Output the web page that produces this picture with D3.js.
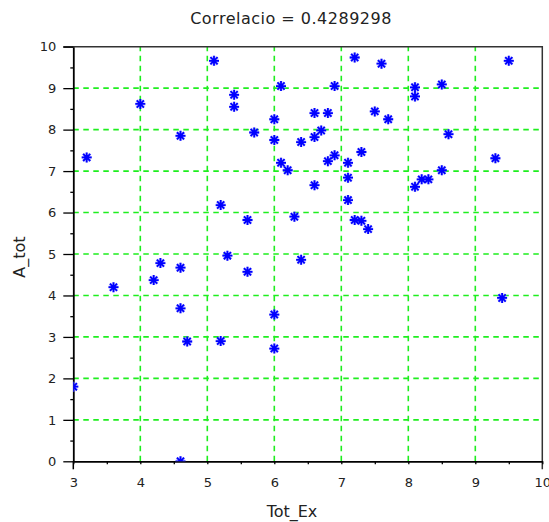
<!DOCTYPE html>
<html>
<head>
<meta charset="utf-8">
<script src="https://cdn.jsdelivr.net/npm/d3@7"></script>
<style>
  html, body { margin: 0; padding: 0; background: #fff; }
  svg { display: block; }
  .axis text { font-family: "DejaVu Sans", sans-serif; font-size: 13px; fill: #222; }
  .axis path, .axis line { stroke: #000; }
</style>
</head>
<body>
<script>
// Scatter of Tot_Ex against A_tot
const totEx = [3.2, 4.0, 4.6, 5.1, 5.4, 5.4, 5.7, 6.0, 6.0, 6.1, 6.1, 6.2, 6.4, 5.2, 5.6, 6.3,
               7.2, 7.6, 6.9, 8.1, 8.1, 8.5, 9.5, 6.6, 6.8, 7.5, 7.7, 6.7, 6.6, 8.6, 6.9, 6.8,
               7.3, 7.1, 7.1, 7.1, 9.3, 8.5, 8.2, 8.3, 8.1, 6.6, 7.2, 7.3, 7.4,
               3.6, 4.2, 4.3, 4.6, 4.6, 4.7, 5.2, 5.3, 5.6, 6.0, 6.0, 6.4, 3.0, 4.6, 9.4];
const aTot  = [7.33, 8.62, 7.85, 9.66, 8.84, 8.55, 7.93, 8.25, 7.75, 9.05, 7.20, 7.02, 7.70, 6.18, 5.82, 5.90,
               9.74, 9.59, 9.05, 9.02, 8.80, 9.09, 9.66, 8.40, 8.40, 8.44, 8.25, 7.98, 7.82, 7.89, 7.38, 7.24,
               7.46, 7.20, 6.84, 6.30, 7.31, 7.02, 6.80, 6.80, 6.62, 6.66, 5.82, 5.80, 5.60,
               4.20, 4.37, 4.78, 4.67, 3.69, 2.89, 2.90, 4.96, 4.57, 3.54, 2.72, 4.86, 1.80, 0.0, 3.94];

const xMajor = [3, 4, 5, 6, 7, 8, 9, 10];
const xMinor = [3.5, 4.5, 5.5, 6.5, 7.5, 8.5, 9.5];
const yMajor = [0, 1, 2, 3, 4, 5, 6, 7, 8, 9, 10];
const yMinor = [0.5, 1.5, 2.5, 3.5, 4.5, 5.5, 6.5, 7.5, 8.5, 9.5];
const xGrid = [4, 5, 6, 7, 8, 9];
const yGrid = [1, 2, 3, 4, 5, 6, 7, 8, 9];

const titleText = "Correlacio = 0.4289298";
const xTitle = "Tot_Ex";
const yTitle = "A_tot";

const W = 549, H = 522;
const pL = 73.3, pR = 542.3, pT = 46.7, pB = 461.3;

const x = d3.scaleLinear().domain([3, 10]).range([pL, pR]);
const y = d3.scaleLinear().domain([0, 10]).range([pB, pT]);

const svg = d3.select("body").append("svg").attr("width", W).attr("height", H);

svg.append("defs").append("clipPath").attr("id", "plotClip")
  .append("rect").attr("x", pL).attr("y", pT)
  .attr("width", pR - pL).attr("height", pB - pT);

// dashed green grid
const grid = svg.append("g").attr("stroke", "#1eee1e").attr("stroke-width", 1.6)
  .attr("stroke-dasharray", "5.5,4.5");
grid.selectAll("line.gx").data(xGrid).join("line").attr("class", "gx")
  .attr("x1", d => x(d)).attr("x2", d => x(d)).attr("y1", pB).attr("y2", pT);
grid.selectAll("line.gy").data(yGrid).join("line").attr("class", "gy")
  .attr("y1", d => y(d)).attr("y2", d => y(d)).attr("x1", pL).attr("x2", pR);

// frame: top and right edges
svg.append("path")
  .attr("d", `M${pL - 10},${pT}H${pR}V${pB + 8}`)
  .attr("fill", "none").attr("stroke", "#333").attr("stroke-width", 1.5);

// axes
const xAxis = svg.append("g").attr("class", "axis").attr("transform", `translate(0,${pB})`);
xAxis.call(d3.axisBottom(x).tickValues(xMinor).tickSize(3).tickFormat(""))
  .call(g => g.select(".domain").remove());
xAxis.append("g").call(d3.axisBottom(x).tickValues(xMajor).tickSize(3).tickSizeOuter(0).tickPadding(13)
  .tickFormat(d3.format("d")))
  .call(g => g.select(".domain").attr("stroke-width", 1.8));
xAxis.selectAll("line").attr("stroke-width", 1.3);

const yAxis = svg.append("g").attr("class", "axis").attr("transform", `translate(${pL},0)`);
yAxis.call(d3.axisLeft(y).tickValues(yMinor).tickSize(3).tickFormat(""))
  .call(g => g.select(".domain").remove());
yAxis.append("g").call(d3.axisLeft(y).tickValues(yMajor).tickSize(10).tickSizeOuter(0).tickPadding(7)
  .tickFormat(d3.format("d")))
  .call(g => g.select(".domain").attr("stroke-width", 1.8));
yAxis.selectAll("line").attr("stroke-width", 1.3);

// downward extension of the left axis line below the corner
svg.append("line").attr("x1", pL).attr("x2", pL).attr("y1", pB).attr("y2", pB + 8)
  .attr("stroke", "#000").attr("stroke-width", 1.5);

// asterisk markers
const r = 5;
const k = r * 0.72;
const star = `M${-r},0H${r}M0,${-r}V${r}M${-k},${-k}L${k},${k}M${-k},${k}L${k},${-k}`;
const pts = svg.append("g").attr("clip-path", "url(#plotClip)");
pts.selectAll("path.halo").data(totEx).join("path").attr("class", "halo")
  .attr("transform", (d, i) => `translate(${x(d)},${y(aTot[i])})`)
  .attr("d", star).attr("stroke", "#9a9aff").attr("stroke-width", 3).attr("stroke-opacity", 0.6)
  .attr("fill", "none");
pts.selectAll("path.mk").data(totEx).join("path").attr("class", "mk")
  .attr("transform", (d, i) => `translate(${x(d)},${y(aTot[i])})`)
  .attr("d", star).attr("stroke", "#0000ff").attr("stroke-width", 1.8).attr("fill", "none");

// titles
svg.append("text").attr("x", 291).attr("y", 24).attr("text-anchor", "middle")
  .style("font-family", "DejaVu Sans, sans-serif").style("font-size", "16px")
  .style("letter-spacing", "0.5px").style("fill", "#222")
  .text(titleText);
svg.append("text").attr("x", 292).attr("y", 517).attr("text-anchor", "middle")
  .style("font-family", "DejaVu Sans, sans-serif").style("font-size", "16px").style("fill", "#222")
  .text(xTitle);
svg.append("text").attr("transform", "translate(25,257) rotate(-90)").attr("text-anchor", "middle")
  .style("font-family", "DejaVu Sans, sans-serif").style("font-size", "16px").style("fill", "#222")
  .text(yTitle);
</script>
</body>
</html>
